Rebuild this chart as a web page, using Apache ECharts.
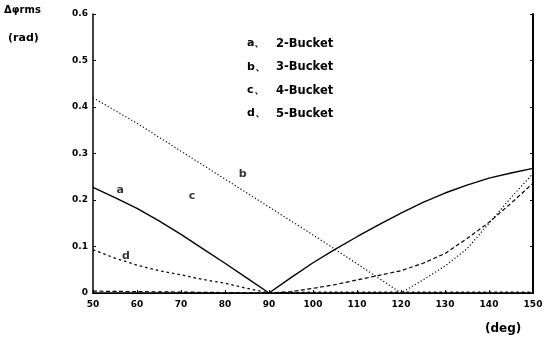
<!DOCTYPE html>
<html><head><meta charset="utf-8">
<script src="https://cdn.jsdelivr.net/npm/echarts@6/dist/echarts.min.js"></script>
<style>html,body{margin:0;padding:0;background:#fff}#c{width:556px;height:343px}</style>
</head><body><div id="c"></div>
<script>
// Data (phase angle in deg -> rms phase error in rad)
var degA = [50,55,60,65,70,75,80,85,90,95,100,105,110,115,120,125,130,135,140,145,150];
var valA = [0.227,0.205,0.182,0.155,0.126,0.095,0.064,0.032,0,0.033,0.065,0.094,0.121,0.147,0.172,0.195,0.215,0.232,0.247,0.258,0.268];
var degB = [50,60,70,80,90,100,110,120,125,130,135,140,145,150];
var valB = [0.42,0.365,0.305,0.245,0.185,0.125,0.063,0,0.028,0.058,0.095,0.150,0.205,0.257];
var degC = [50,60,70,80,90,95,100,105,110,115,120,125,130,135,140,145,150];
var valC = [0.004,0.003,0.002,0.001,0,0.003,0.01,0.018,0.028,0.038,0.048,0.064,0.085,0.117,0.152,0.193,0.236];
var degD = [50,55,60,65,70,75,80,85,90,100,110,120,130,140,150];
var valD = [0.093,0.075,0.06,0.048,0.039,0.029,0.021,0.01,0,0.002,0.002,0.002,0.002,0.002,0.002];
var xTicks = [50,60,70,80,90,100,110,120,130,140,150];
var yTicks = [0,0.1,0.2,0.3,0.4,0.5,0.6];
var legendKeys = ['a、','b、','c、','d、'];
var legendNames = ['2-Bucket','3-Bucket','4-Bucket','5-Bucket'];
var curveTags = [['a',56.2,0.221],['b',84.0,0.255],['c',72.5,0.208],['d',57.5,0.080]];

function pairs(xs, ys){ return xs.map(function(x,i){return [x, ys[i]];}); }
var F = 'DejaVu Sans';
var chart = echarts.init(document.getElementById('c'), null, {renderer:'canvas'});
var tickLbl = {fontFamily:F, fontWeight:'bold', fontSize:9, color:'#000'};
var series = [
  {data:pairs(degA,valA), lineStyle:{type:'solid', width:1.4}},
  {data:pairs(degB,valB), lineStyle:{type:[1.2,2.2], width:1.2}},
  {data:pairs(degC,valC), lineStyle:{type:[4,2.5], width:1.2}},
  {data:pairs(degD,valD), lineStyle:{type:[2.5,3], width:1.3}}
].map(function(s){
  s.type='line'; s.symbol='none'; s.animation=false; s.lineStyle.color='#000';
  s.xAxisIndex=0; s.yAxisIndex=0; return s;
});
series.push({
  type:'scatter', symbolSize:0, animation:false, silent:true,
  data: curveTags.map(function(t){return {value:[t[1],t[2]], label:{show:true, formatter:t[0], position:'inside', fontFamily:F, fontWeight:'bold', fontSize:11, color:'#000'}};})
});
var graphics = [
  {type:'text', left:4, top:5, style:{text:'Δφrms', font:'bold 10px "DejaVu Sans"', fill:'#000'}},
  {type:'text', left:8, top:33, style:{text:'(rad)', font:'bold 11px "DejaVu Sans"', fill:'#000'}},
  {type:'text', left:485, top:323, style:{text:'(deg)', font:'bold 12px "DejaVu Sans"', fill:'#000'}}
];
legendKeys.forEach(function(k,i){
  graphics.push({type:'text', left:247, top:38+i*23.3, style:{text:k, font:'bold 11px "DejaVu Sans"', fill:'#000'}});
  graphics.push({type:'text', left:276, top:38+i*23.3, style:{text:legendNames[i], font:'bold 11.5px "DejaVu Sans"', fill:'#000'}});
});
chart.setOption({
  backgroundColor:'#fff',
  animation:false,
  grid:{left:93, right:23, top:14, bottom:50},
  xAxis:[
    {type:'value', min:xTicks[0], max:xTicks[xTicks.length-1], interval:10, position:'bottom',
     axisLine:{lineStyle:{color:'#000', width:1.5}}, axisTick:{inside:true, length:3, lineStyle:{color:'#000'}},
     axisLabel:Object.assign({margin:7}, tickLbl), splitLine:{show:false}},
    {type:'value', min:xTicks[0], max:xTicks[xTicks.length-1], interval:10, position:'top',
     axisLine:{lineStyle:{color:'#000', width:1.2}}, axisTick:{show:false}, axisLabel:{show:false}, splitLine:{show:false}}
  ],
  yAxis:[
    {type:'value', min:yTicks[0], max:yTicks[yTicks.length-1], interval:0.1, position:'left',
     axisLine:{show:true, lineStyle:{color:'#000', width:1.5}}, axisTick:{show:true, inside:true, length:3, lineStyle:{color:'#000'}},
     axisLabel:Object.assign({margin:5, formatter:function(v){return v===0?'0':v.toFixed(1);}}, tickLbl), splitLine:{show:false}},
    {type:'value', min:yTicks[0], max:yTicks[yTicks.length-1], interval:0.1, position:'right',
     axisLine:{show:true, lineStyle:{color:'#000', width:2}}, axisTick:{show:true, inside:true, length:3, lineStyle:{color:'#000'}},
     axisLabel:{show:false}, splitLine:{show:false}}
  ],
  series:series,
  graphic:graphics
});
</script></body></html>
